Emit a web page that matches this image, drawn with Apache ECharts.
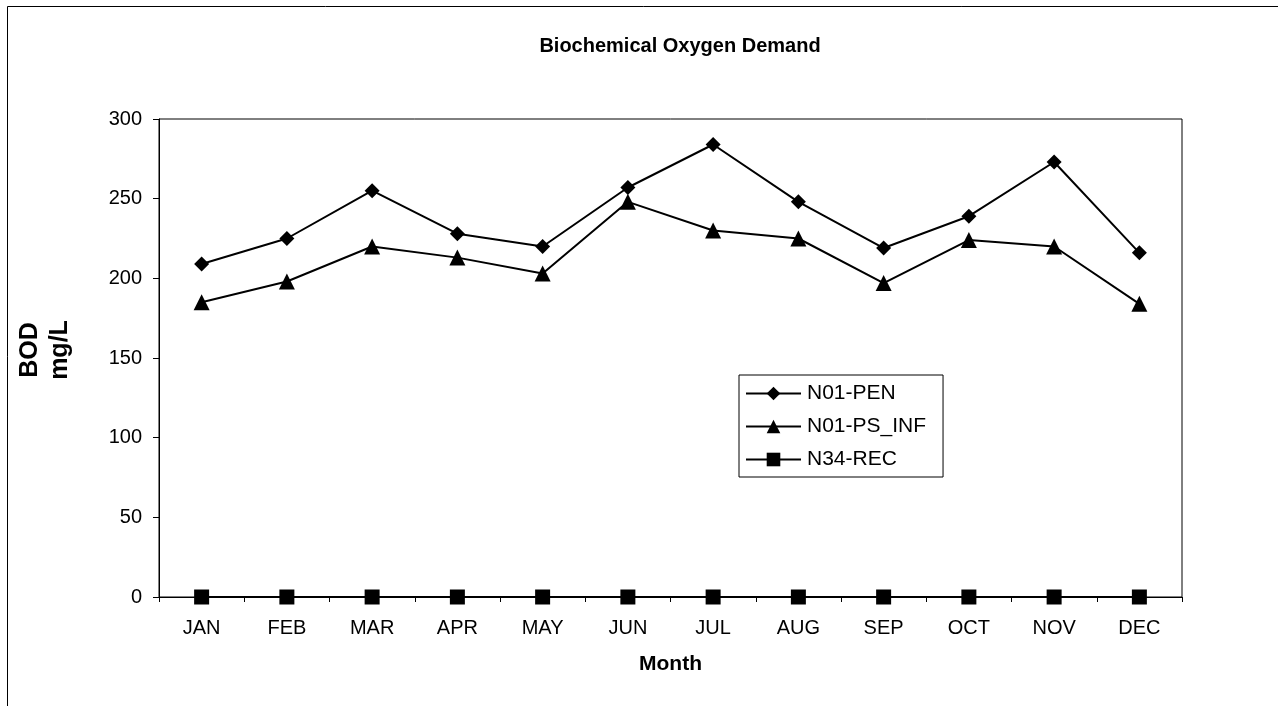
<!DOCTYPE html>
<html>
<head>
<meta charset="utf-8">
<title>Biochemical Oxygen Demand</title>
<script src="https://cdn.jsdelivr.net/npm/echarts@6/dist/echarts.min.js"></script>
<style>
  html, body { margin: 0; padding: 0; background: #fff; }
  #chart { width: 1278px; height: 706px; }
</style>
</head>
<body>
<div id="chart"></div>
<script>
// values
var months = ['JAN', 'FEB', 'MAR', 'APR', 'MAY', 'JUN', 'JUL', 'AUG', 'SEP', 'OCT', 'NOV', 'DEC']
var n01Pen = [209, 225, 255, 228, 220, 257, 284, 248, 219, 239, 273, 216]
var n01PsInf = [185, 198, 220, 213, 203, 248, 230, 225, 197, 224, 220, 184]
var n34Rec = [0, 0, 0, 0, 0, 0, 0, 0, 0, 0, 0, 0]

var font = '"Liberation Sans", Arial, sans-serif'

var myChart = echarts.init(document.getElementById('chart'), null, { renderer: 'canvas' })

function lineSeries(name, data, symbol) {
  return {
    name: name,
    type: 'line',
    data: data,
    symbol: symbol,
    symbolSize: symbol === 'triangle' ? 16 : 15,
    showAllSymbol: true,
    lineStyle: { color: '#000', width: 2 },
    itemStyle: { color: '#000', borderWidth: 0 },
    emphasis: { disabled: true },
    animation: false
  }
}

var option = {
  backgroundColor: '#fff',
  animation: false,
  textStyle: { fontFamily: font, color: '#000' },
  graphic: [
    {
      type: 'rect',
      shape: { x: 7.5, y: 6.5, width: 1290, height: 720 },
      style: { fill: null, stroke: '#000', lineWidth: 1 },
      silent: true
    }
  ],
  title: {
    text: 'Biochemical Oxygen Demand',
    left: 675,
    textAlign: 'center',
    top: 31,
    textStyle: { fontFamily: font, fontSize: 20, fontWeight: 'bold', color: '#000' }
  },
  legend: {
    orient: 'vertical',
    left: 739,
    top: 375,
    padding: [8, 17, 7, 6],
    itemGap: 12,
    itemWidth: 55,
    itemHeight: 17,
    borderColor: '#000',
    borderWidth: 1,
    backgroundColor: '#fff',
    textStyle: { fontFamily: font, fontSize: 21, color: '#000', padding: [0, 0, 0, 1] },
    data: ['N01-PEN', 'N01-PS_INF', 'N34-REC']
  },
  grid: {
    left: 159,
    top: 119,
    right: 96,
    bottom: 109,
    show: true,
    borderColor: '#000',
    borderWidth: 1
  },
  xAxis: {
    type: 'category',
    data: months,
    boundaryGap: true,
    name: 'Month',
    nameLocation: 'middle',
    nameGap: 57,
    nameTextStyle: { fontFamily: font, fontSize: 21, fontWeight: 'bold', color: '#000' },
    axisLine: { lineStyle: { color: '#000', width: 1 } },
    axisTick: { show: true, length: 5, lineStyle: { color: '#000' } },
    axisLabel: { fontFamily: font, fontSize: 20, color: '#000', margin: 21 },
    splitLine: { show: false }
  },
  yAxis: {
    type: 'value',
    min: 0,
    max: 300,
    interval: 50,
    name: 'BOD\nmg/L',
    nameLocation: 'middle',
    nameRotate: 90,
    nameGap: 84,
    nameTextStyle: { fontFamily: font, fontSize: 25, fontWeight: 'bold', color: '#000', lineHeight: 30, padding: [0, 0, 0, 16] },
    axisLine: { show: true, lineStyle: { color: '#000', width: 1 } },
    axisTick: { show: true, length: 6, lineStyle: { color: '#000' } },
    axisLabel: { fontFamily: font, fontSize: 20, color: '#000', margin: 17 },
    splitLine: { show: false }
  },
  series: [
    lineSeries('N01-PEN', n01Pen, 'diamond'),
    lineSeries('N01-PS_INF', n01PsInf, 'triangle'),
    lineSeries('N34-REC', n34Rec, 'rect')
  ]
}

option && myChart.setOption(option)
</script>
</body>
</html>
